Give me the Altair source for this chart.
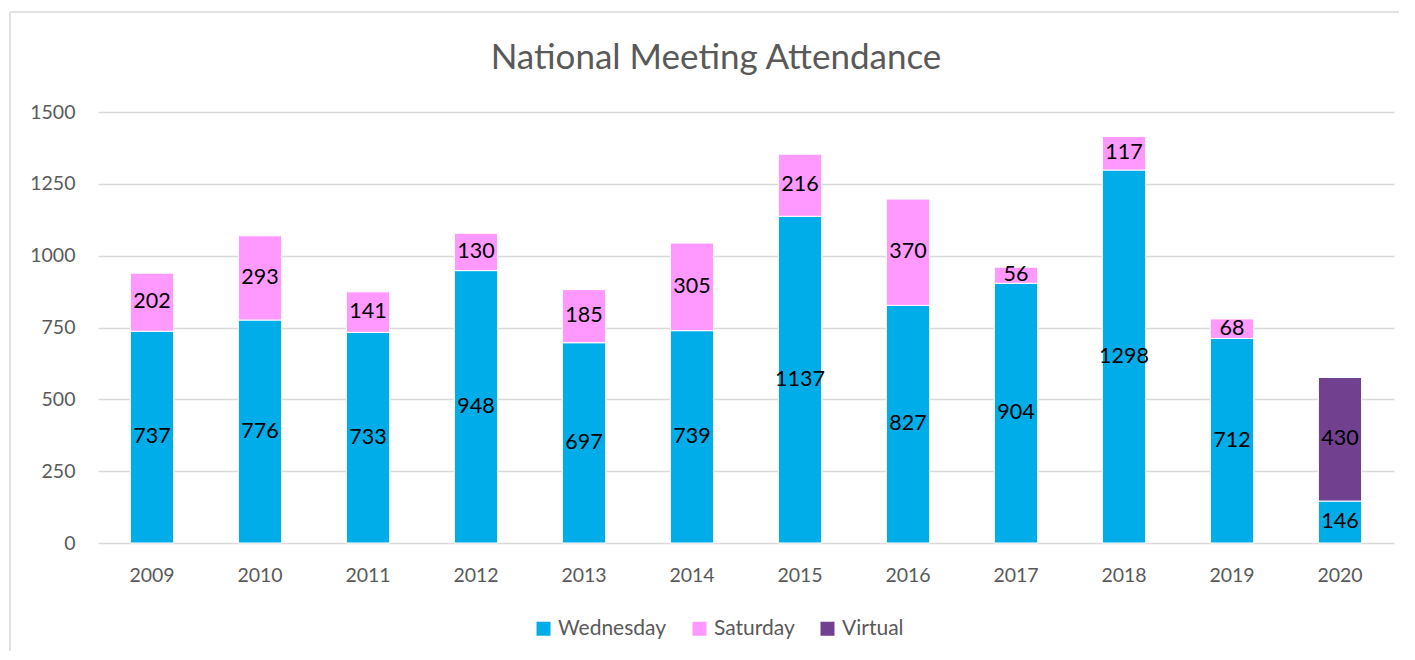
import altair as alt
import pandas as pd

years = ["2009", "2010", "2011", "2012", "2013", "2014", "2015", "2016", "2017", "2018", "2019", "2020"]
wednesday = [737, 776, 733, 948, 697, 739, 1137, 827, 904, 1298, 712, 146]
saturday = [202, 293, 141, 130, 185, 305, 216, 370, 56, 117, 68, 0]
virtual = [0, 0, 0, 0, 0, 0, 0, 0, 0, 0, 0, 430]

series = ["Wednesday", "Saturday", "Virtual"]
colors = ["#00ADE9", "#FF99FF", "#71418F"]
title_text = "National Meeting Attendance"

rows = []
for i, y in enumerate(years):
    for k, (name, vals) in enumerate(zip(series, [wednesday, saturday, virtual])):
        if vals[i] > 0:
            rows.append({"year": y, "series": name, "value": vals[i], "ord": k})
df = pd.DataFrame(rows)

FONT = "Lato"
GRAY = "#595959"
W, H = 1296, 431

xenc = alt.X("year:N", title=None, sort=years,
             scale=alt.Scale(paddingInner=0.6, paddingOuter=0.3),
             axis=alt.Axis(labelAngle=0, domain=False, ticks=False, labelPadding=23,
                           labelFontSize=19.5, labelColor=GRAY, labelFont=FONT))

bars = alt.Chart(df).mark_bar(stroke="white", strokeWidth=1).encode(
    x=xenc,
    y=alt.Y("value:Q", stack="zero", title=None,
            scale=alt.Scale(domain=[0, 1500], nice=False),
            axis=alt.Axis(values=[0, 250, 500, 750, 1000, 1250, 1500], format="d",
                          domain=False, ticks=False,
                          grid=True, gridColor="#d9d9d9", gridWidth=1.5, labelPadding=23,
                          labelFontSize=19.5, labelColor=GRAY, labelFont=FONT)),
    color=alt.Color("series:N", scale=alt.Scale(domain=series, range=colors),
                    legend=alt.Legend(title=None, orient="none", legendX=435, legendY=506,
                                      direction="horizontal", symbolType="square", symbolSize=196,
                                      symbolStrokeWidth=0, labelFontSize=21, labelColor=GRAY,
                                      labelFont=FONT, labelOffset=4, columnPadding=22)),
    order=alt.Order("ord:Q"),
)

labels = alt.Chart(df).transform_stack(
    stack="value", groupby=["year"], sort=[alt.SortField("ord")], as_=["y0", "y1"]
).transform_calculate(mid="(datum.y0 + datum.y1) / 2").mark_text(
    font=FONT, fontSize=21.5, color="black", baseline="middle"
).encode(
    x=alt.X("year:N", sort=years),
    y=alt.Y("mid:Q"),
    text=alt.Text("value:Q"),
)

single = pd.DataFrame({"t": [title_text]})

frame_left = alt.Chart(single).mark_rule(color="#d9d9d9", strokeWidth=1.5).encode(
    x=alt.value(-88), y=alt.value(-100), y2=alt.value(600))
frame_top = alt.Chart(single).mark_rule(color="#d9d9d9", strokeWidth=1.5).encode(
    x=alt.value(-88), x2=alt.value(1340), y=alt.value(-100))

title = alt.Chart(single).mark_text(
    font=FONT, fontSize=35, color=GRAY, baseline="alphabetic", align="center"
).encode(x=alt.value(618), y=alt.value(-43), text="t:N")

chart = alt.layer(frame_left, frame_top, title, bars, labels).properties(
    width=W, height=H,
    autosize=alt.AutoSizeParams(type="none"),
    padding={"left": 90, "top": 104, "right": 5, "bottom": 108},
).configure_view(stroke=None)

chart.save("out.html", embed_options={"renderer": "svg", "actions": False})
